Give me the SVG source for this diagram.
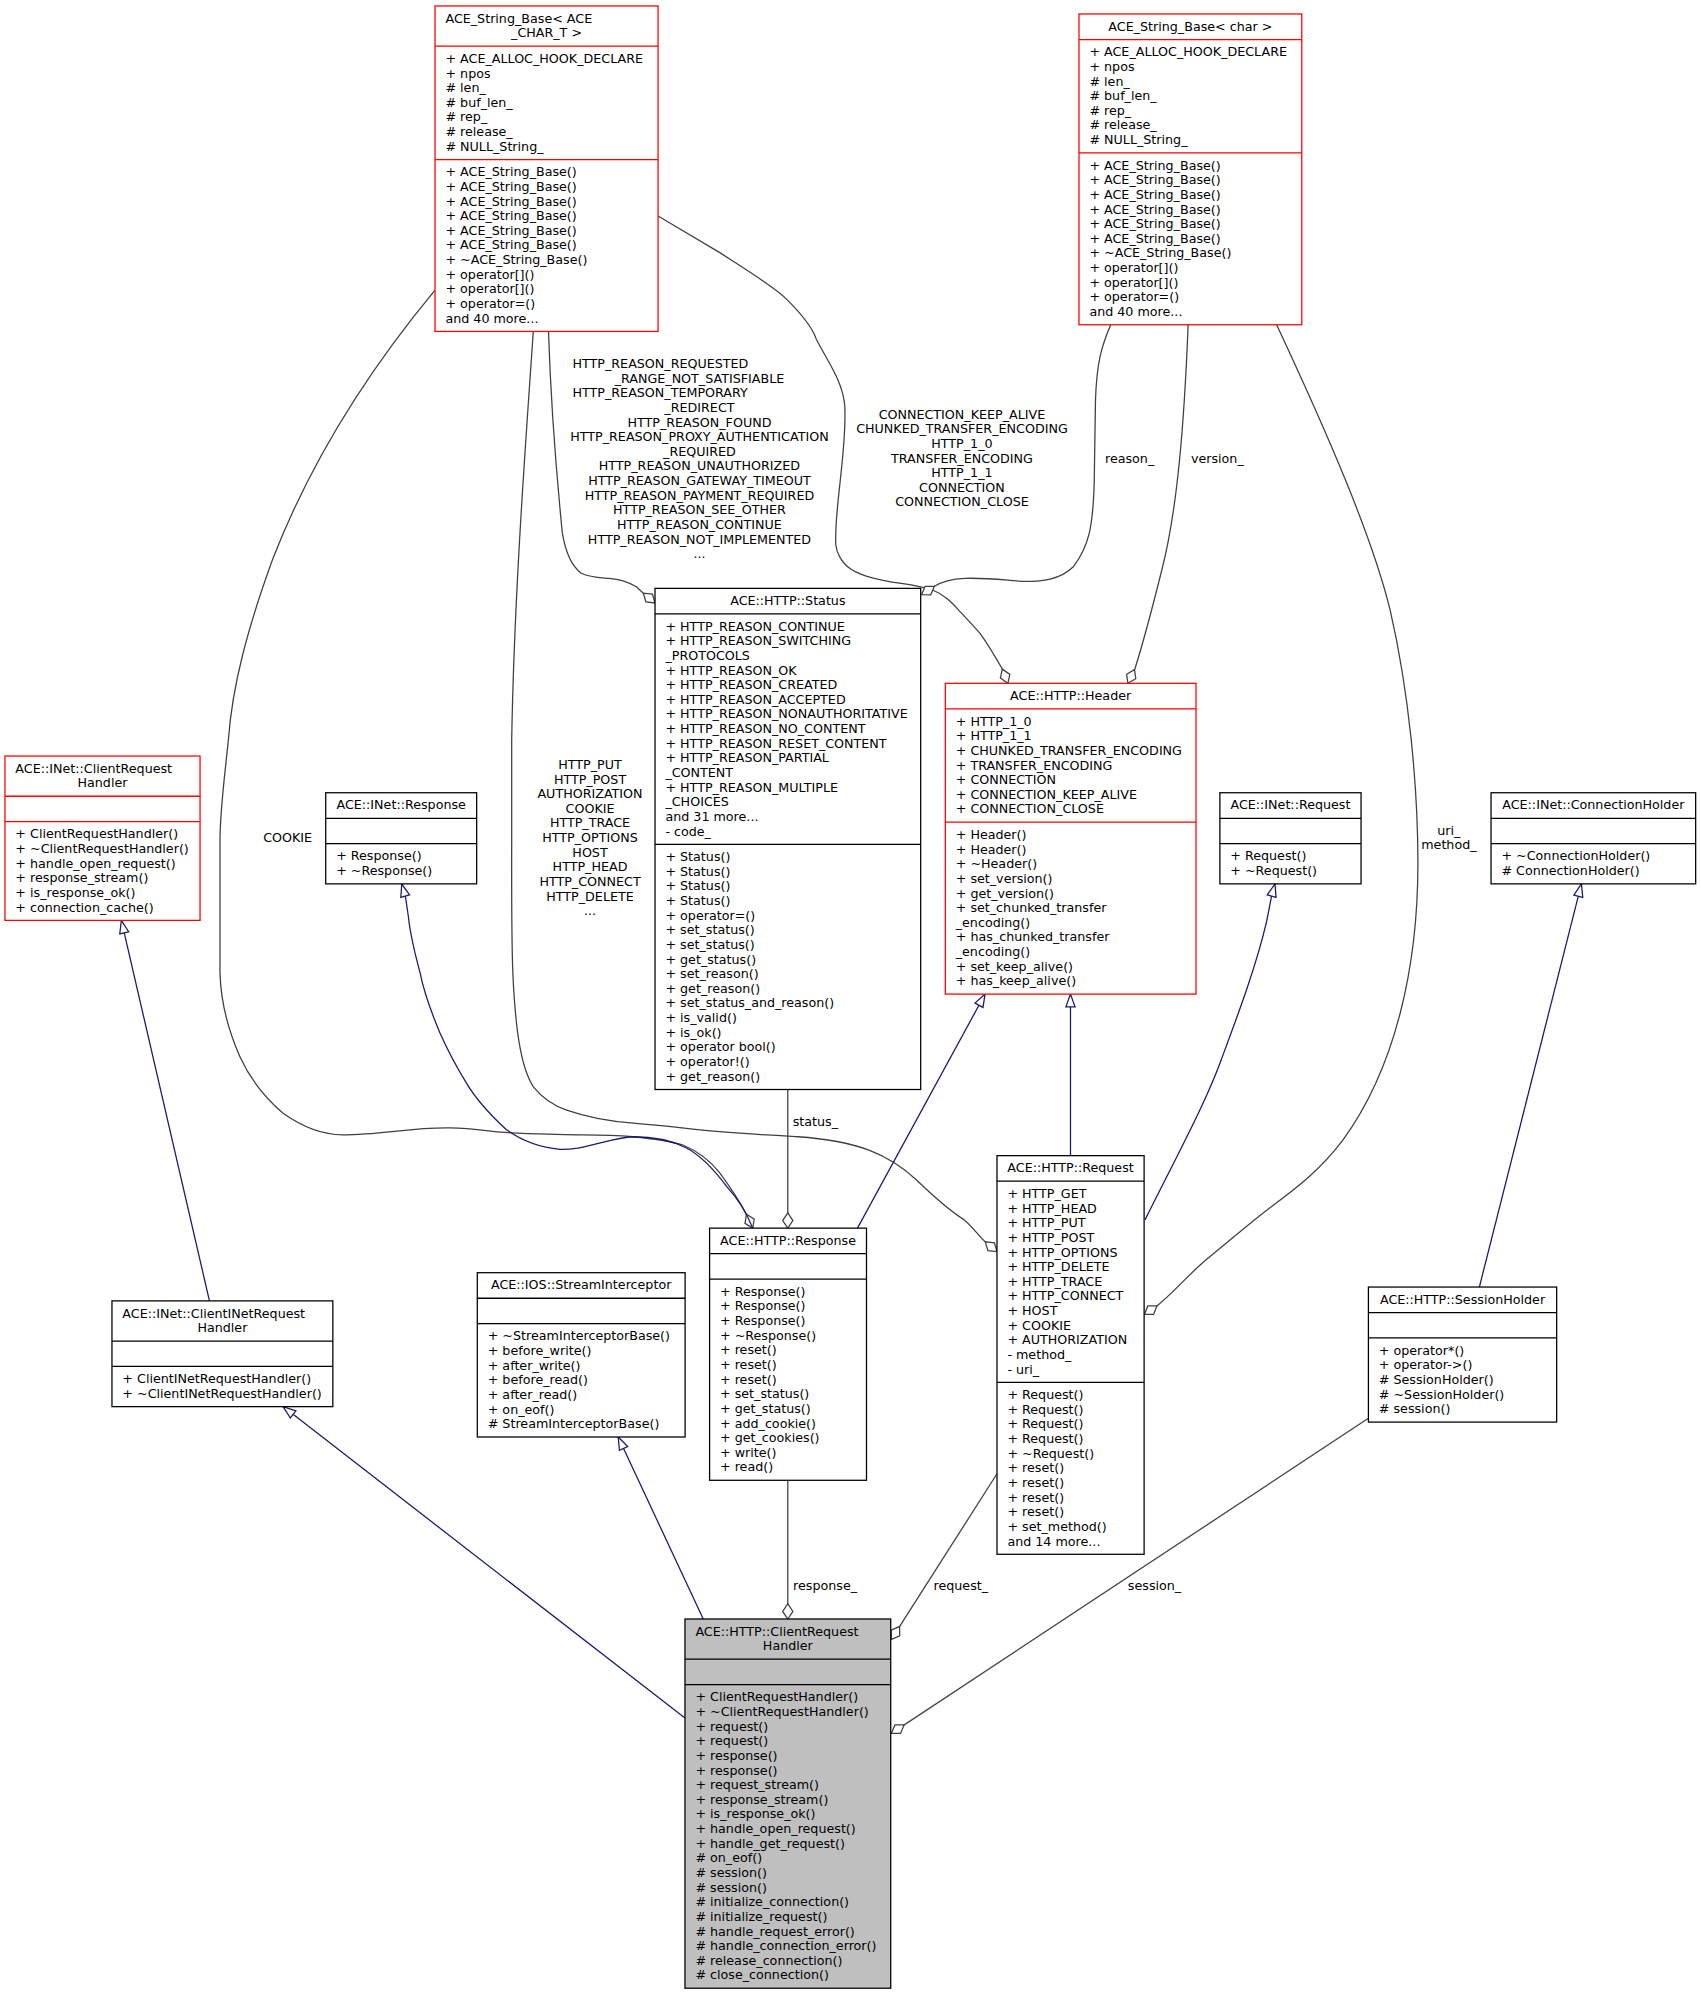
<svg xmlns="http://www.w3.org/2000/svg" width="1701" height="1995" viewBox="0 0 1701 1995">
<style>
.t{font-family:"DejaVu Sans","Liberation Sans",sans-serif;font-size:10px;fill:#000}
.c{text-anchor:middle}
.rb{fill:#fff;stroke:#000;stroke-width:1}
.rr{fill:#fff;stroke:#ff0000;stroke-width:1}
.rm{fill:#bfbfbf;stroke:#000;stroke-width:1}
.db{fill:none;stroke:#000;stroke-width:1}
.dr{fill:none;stroke:#ff0000;stroke-width:1}
.u{fill:none;stroke:#404040;stroke-width:1;marker-end:url(#dia)}
.i{fill:none;stroke:#191970;stroke-width:1;marker-end:url(#tri)}
</style>
<defs>
<marker id="dia" markerUnits="userSpaceOnUse" orient="auto" overflow="visible" refX="0" refY="0" markerWidth="1" markerHeight="1"><path d="M0,0 L-6,-4 L-12,0 L-6,4 Z" fill="#fff" stroke="#404040" stroke-width="1"/></marker>
<marker id="tri" markerUnits="userSpaceOnUse" orient="auto" overflow="visible" refX="0" refY="0" markerWidth="1" markerHeight="1"><path d="M0,0 L-10,-3.6 L-10,3.6 Z" fill="#fff" stroke="#191970" stroke-width="1"/></marker>
</defs>
<rect x="0" y="0" width="1701" height="1995" fill="#fff"/>
<g transform="scale(1.2694)">

<g id="edges">
<!-- E1 StrBaseACE -> Status -->
<path class="u" d="M432.1,261.3 C434,320 440,390 443,420 C445,432 449,445 457.9,451.6 C465,455 472,455 479.7,455.6 C490,456.5 496,459 501.3,462.2 L506.8,467.3 L516,475"/>
<!-- E2 StrBaseACE -> Header -->
<path class="u" d="M518.4,170.2 C535,180 552,190 567,199 C590,214 610,226 620,236 C632,248 640,258 643,267 C652,285 664,300 665.5,320 C667,350 660,385 658.6,415 C658,428 658,433 661.4,438.5 C666,447 673,451 683,454 C693,457 702,458.5 710,459.5 C720,461 728,462.5 734.7,464.8 C745,469 750,475 756.5,482 C762,488 767,493 772,499 C778,507 782,514 789.6,527.1 L794,538.3"/>
<!-- E3 reason_ -->
<path class="u" d="M875,255.8 C868,272 864,285 863,315 L862,380 C861,415 858,430 845.5,446.5 C835,457 820,458 808,458 C795,457.5 780,455 760,455.6 C750,456 742,458 735.8,462.1 L726,468.5"/>
<!-- E4 version_ -->
<path class="u" d="M936,255.8 C933,330 928,400 915,450 C908,478 901,505 894,527 L888.5,538.3"/>
<!-- E5 uri_ method_ -->
<path class="u" d="M1005.7,255.8 C1045,340 1080,420 1095,480 C1110,545 1117,620 1117,680 C1117,760 1100,840 1058,898 C1040,922 1020,937 1001,951 C985,963 968,978 953,990 C940,1000 925,1018 911.4,1028.8 L901.5,1035.5"/>
<!-- E6 COOKIE -> Response -->
<path class="u" d="M342.7,228.5 C300,280 250,350 215,440 C195,495 183,540 179.9,583 C176,620 173.3,640 173.3,661.7 L173.3,766.8 C174,790 180,812 189,832.4 C198,852 210,866 223,877 C240,889 255,894 270,894 C300,894 325,888 354.5,888.6 C375,889 390,892 407,892.7 C430,893.5 445,894 459,894 C475,894 488,894.5 498.7,895.5 C515,897 528,899 538,902 C550,907 560,915 567,924 C575,935 583,947 588,956.5 L593,967.5"/>
<!-- E7 HTTP_PUT... -> Request -->
<path class="u" d="M420.1,261.3 C414,350 405,470 403.1,583 L403.1,661.7 C403,700 403,740 404,766.6 C406,810 410,840 420,856 C428,866 436,871 446.4,874.5 C465,881 482,883.5 499,884.8 C525,887 545,889.5 567,891.5 C590,893.5 610,894.5 628.6,895.5 C650,897 668,900 684.6,906 C700,912 712,920 722,929.6 C737,944 750,955 759.6,961 C766,966 771,974 776.2,978.3 L785.4,986"/>
<!-- E8 Response -> INet::Response (inherit) -->
<path class="i" d="M593,967.5 C588,955 582,945 572.7,935 C563,922 552,910 540,904 C528,898 512,895.5 499,895.5 C485,896 470,902 455,904.5 C448,905.5 444,905.5 441,905.4 C425,904 410,898 399,890 C385,877 375,866 367.6,853.4 C358,838 352,826 346.6,813.8 C340,798 334,782 331,766.6 C326,748 323,735 321.7,722 L319.5,707 L316.5,696.4"/>
<!-- E9 status_ -->
<path class="u" d="M620.6,858.3 L620.6,967.5"/>
<!-- E10 Response -> Header -->
<path class="i" d="M675.5,967.5 L776,783.1"/>
<!-- E11 Request -> Header -->
<path class="i" d="M843.3,910.4 L843.3,783.1"/>
<!-- E12 Request -> INet::Request -->
<path class="i" d="M902,961 C930,905 950,868 962,835 C975,800 990,760 998,725 L1001.5,707 L1004.4,696.3"/>
<!-- E13 SessionHolder -> ConnectionHolder -->
<path class="i" d="M1165.4,1013.9 L1245.8,696.3"/>
<!-- E14 ClientINet -> INet CRH -->
<path class="i" d="M165,1024.8 L95.6,725.1"/>
<!-- E15 CRH -> ClientINet -->
<path class="i" d="M539.6,1353.4 L223,1108.1"/>
<!-- E16 CRH -> StreamInterceptor -->
<path class="i" d="M554,1275.4 L487,1132"/>
<!-- E17 response_ -->
<path class="u" d="M620.6,1166.1 L620.6,1275.4"/>
<!-- E18 request_ -->
<path class="u" d="M785.4,1161 L702.2,1291.5"/>
<!-- E19 session_ -->
<path class="u" d="M1078,1117.3 L702.2,1365.5"/>

<!-- edge labels -->
<text class="t" x="451" y="289.9">HTTP_REASON_REQUESTED</text>
<text class="t c" x="551" y="301.43">_RANGE_NOT_SATISFIABLE</text>
<text class="t" x="451" y="312.96">HTTP_REASON_TEMPORARY</text>
<text class="t c" x="551" y="324.49">_REDIRECT</text>
<text class="t c" x="551" y="336.02">HTTP_REASON_FOUND</text>
<text class="t c" x="551" y="347.55">HTTP_REASON_PROXY_AUTHENTICATION</text>
<text class="t c" x="551" y="359.08">_REQUIRED</text>
<text class="t c" x="551" y="370.61">HTTP_REASON_UNAUTHORIZED</text>
<text class="t c" x="551" y="382.14">HTTP_REASON_GATEWAY_TIMEOUT</text>
<text class="t c" x="551" y="393.67">HTTP_REASON_PAYMENT_REQUIRED</text>
<text class="t c" x="551" y="405.2">HTTP_REASON_SEE_OTHER</text>
<text class="t c" x="551" y="416.73">HTTP_REASON_CONTINUE</text>
<text class="t c" x="551" y="428.26">HTTP_REASON_NOT_IMPLEMENTED</text>
<text class="t c" x="551" y="439.79">...</text>

<text class="t c" x="757.8" y="329.8"><tspan x="757.8">CONNECTION_KEEP_ALIVE</tspan><tspan x="757.8" dy="11.53">CHUNKED_TRANSFER_ENCODING</tspan><tspan x="757.8" dy="11.53">HTTP_1_0</tspan><tspan x="757.8" dy="11.53">TRANSFER_ENCODING</tspan><tspan x="757.8" dy="11.53">HTTP_1_1</tspan><tspan x="757.8" dy="11.53">CONNECTION</tspan><tspan x="757.8" dy="11.53">CONNECTION_CLOSE</tspan></text>

<text class="t c" x="889.9" y="364.6">reason_</text>
<text class="t c" x="959" y="364.6">version_</text>
<text class="t c" x="1141.4" y="657.4"><tspan x="1141.4">uri_</tspan><tspan x="1141.4" dy="11.53">method_</tspan></text>
<text class="t c" x="226.6" y="663.5">COOKIE</text>
<text class="t c" x="464.8" y="605.7"><tspan x="464.8">HTTP_PUT</tspan><tspan x="464.8" dy="11.53">HTTP_POST</tspan><tspan x="464.8" dy="11.53">AUTHORIZATION</tspan><tspan x="464.8" dy="11.53">COOKIE</tspan><tspan x="464.8" dy="11.53">HTTP_TRACE</tspan><tspan x="464.8" dy="11.53">HTTP_OPTIONS</tspan><tspan x="464.8" dy="11.53">HOST</tspan><tspan x="464.8" dy="11.53">HTTP_HEAD</tspan><tspan x="464.8" dy="11.53">HTTP_CONNECT</tspan><tspan x="464.8" dy="11.53">HTTP_DELETE</tspan><tspan x="464.8" dy="11.53">...</tspan></text>
<text class="t c" x="642.3" y="887">status_</text>
<text class="t c" x="650" y="1252.5">response_</text>
<text class="t c" x="756.9" y="1252.5">request_</text>
<text class="t c" x="909.5" y="1252.5">session_</text>
</g>

<g id="n_strbase_ace">
<rect class="rr" x="342.7" y="4.7" width="175.7" height="256.4"/>
<path class="dr" d="M342.7,36.36H518.4M342.7,125.66H518.4"/>
<text class="t" x="350.9" y="17.9">ACE_String_Base&lt; ACE</text>
<text class="t c" x="430.55" y="29.43">_CHAR_T &gt;</text>
<text class="t" x="350.9" y="49.56"><tspan x="350.9">+ ACE_ALLOC_HOOK_DECLARE</tspan><tspan x="350.9" dy="11.53">+ npos</tspan><tspan x="350.9" dy="11.53"># len_</tspan><tspan x="350.9" dy="11.53"># buf_len_</tspan><tspan x="350.9" dy="11.53"># rep_</tspan><tspan x="350.9" dy="11.53"># release_</tspan><tspan x="350.9" dy="11.53"># NULL_String_</tspan></text>
<text class="t" x="350.9" y="138.86"><tspan x="350.9">+ ACE_String_Base()</tspan><tspan x="350.9" dy="11.53">+ ACE_String_Base()</tspan><tspan x="350.9" dy="11.53">+ ACE_String_Base()</tspan><tspan x="350.9" dy="11.53">+ ACE_String_Base()</tspan><tspan x="350.9" dy="11.53">+ ACE_String_Base()</tspan><tspan x="350.9" dy="11.53">+ ACE_String_Base()</tspan><tspan x="350.9" dy="11.53">+ ~ACE_String_Base()</tspan><tspan x="350.9" dy="11.53">+ operator[]()</tspan><tspan x="350.9" dy="11.53">+ operator[]()</tspan><tspan x="350.9" dy="11.53">+ operator=()</tspan><tspan x="350.9" dy="11.53">and 40 more...</tspan></text>
</g>

<g id="n_strbase_char">
<rect class="rr" x="850" y="11" width="175.5" height="244.83"/>
<path class="dr" d="M850,31.13H1025.5M850,120.43H1025.5"/>
<text class="t c" x="937.75" y="24.2">ACE_String_Base&lt; char &gt;</text>
<text class="t" x="858.2" y="44.33"><tspan x="858.2">+ ACE_ALLOC_HOOK_DECLARE</tspan><tspan x="858.2" dy="11.53">+ npos</tspan><tspan x="858.2" dy="11.53"># len_</tspan><tspan x="858.2" dy="11.53"># buf_len_</tspan><tspan x="858.2" dy="11.53"># rep_</tspan><tspan x="858.2" dy="11.53"># release_</tspan><tspan x="858.2" dy="11.53"># NULL_String_</tspan></text>
<text class="t" x="858.2" y="133.63"><tspan x="858.2">+ ACE_String_Base()</tspan><tspan x="858.2" dy="11.53">+ ACE_String_Base()</tspan><tspan x="858.2" dy="11.53">+ ACE_String_Base()</tspan><tspan x="858.2" dy="11.53">+ ACE_String_Base()</tspan><tspan x="858.2" dy="11.53">+ ACE_String_Base()</tspan><tspan x="858.2" dy="11.53">+ ACE_String_Base()</tspan><tspan x="858.2" dy="11.53">+ ~ACE_String_Base()</tspan><tspan x="858.2" dy="11.53">+ operator[]()</tspan><tspan x="858.2" dy="11.53">+ operator[]()</tspan><tspan x="858.2" dy="11.53">+ operator=()</tspan><tspan x="858.2" dy="11.53">and 40 more...</tspan></text>
</g>

<g id="n_status">
<rect class="rb" x="516" y="463.5" width="209.3" height="394.78"/>
<path class="db" d="M516,483.63H725.3M516,665.18H725.3"/>
<text class="t c" x="620.65" y="476.7">ACE::HTTP::Status</text>
<text class="t" x="524.2" y="496.83"><tspan x="524.2">+ HTTP_REASON_CONTINUE</tspan><tspan x="524.2" dy="11.53">+ HTTP_REASON_SWITCHING</tspan><tspan x="524.2" dy="11.53">_PROTOCOLS</tspan><tspan x="524.2" dy="11.53">+ HTTP_REASON_OK</tspan><tspan x="524.2" dy="11.53">+ HTTP_REASON_CREATED</tspan><tspan x="524.2" dy="11.53">+ HTTP_REASON_ACCEPTED</tspan><tspan x="524.2" dy="11.53">+ HTTP_REASON_NONAUTHORITATIVE</tspan><tspan x="524.2" dy="11.53">+ HTTP_REASON_NO_CONTENT</tspan><tspan x="524.2" dy="11.53">+ HTTP_REASON_RESET_CONTENT</tspan><tspan x="524.2" dy="11.53">+ HTTP_REASON_PARTIAL</tspan><tspan x="524.2" dy="11.53">_CONTENT</tspan><tspan x="524.2" dy="11.53">+ HTTP_REASON_MULTIPLE</tspan><tspan x="524.2" dy="11.53">_CHOICES</tspan><tspan x="524.2" dy="11.53">and 31 more...</tspan><tspan x="524.2" dy="11.53">- code_</tspan></text>
<text class="t" x="524.2" y="678.38"><tspan x="524.2">+ Status()</tspan><tspan x="524.2" dy="11.53">+ Status()</tspan><tspan x="524.2" dy="11.53">+ Status()</tspan><tspan x="524.2" dy="11.53">+ Status()</tspan><tspan x="524.2" dy="11.53">+ operator=()</tspan><tspan x="524.2" dy="11.53">+ set_status()</tspan><tspan x="524.2" dy="11.53">+ set_status()</tspan><tspan x="524.2" dy="11.53">+ get_status()</tspan><tspan x="524.2" dy="11.53">+ set_reason()</tspan><tspan x="524.2" dy="11.53">+ get_reason()</tspan><tspan x="524.2" dy="11.53">+ set_status_and_reason()</tspan><tspan x="524.2" dy="11.53">+ is_valid()</tspan><tspan x="524.2" dy="11.53">+ is_ok()</tspan><tspan x="524.2" dy="11.53">+ operator bool()</tspan><tspan x="524.2" dy="11.53">+ operator!()</tspan><tspan x="524.2" dy="11.53">+ get_reason()</tspan></text>
</g>

<g id="n_header">
<rect class="rr" x="744.7" y="538.3" width="197.5" height="244.83"/>
<path class="dr" d="M744.7,558.43H942.2M744.7,647.73H942.2"/>
<text class="t c" x="843.45" y="551.5">ACE::HTTP::Header</text>
<text class="t" x="752.9" y="571.63"><tspan x="752.9">+ HTTP_1_0</tspan><tspan x="752.9" dy="11.53">+ HTTP_1_1</tspan><tspan x="752.9" dy="11.53">+ CHUNKED_TRANSFER_ENCODING</tspan><tspan x="752.9" dy="11.53">+ TRANSFER_ENCODING</tspan><tspan x="752.9" dy="11.53">+ CONNECTION</tspan><tspan x="752.9" dy="11.53">+ CONNECTION_KEEP_ALIVE</tspan><tspan x="752.9" dy="11.53">+ CONNECTION_CLOSE</tspan></text>
<text class="t" x="752.9" y="660.93"><tspan x="752.9">+ Header()</tspan><tspan x="752.9" dy="11.53">+ Header()</tspan><tspan x="752.9" dy="11.53">+ ~Header()</tspan><tspan x="752.9" dy="11.53">+ set_version()</tspan><tspan x="752.9" dy="11.53">+ get_version()</tspan><tspan x="752.9" dy="11.53">+ set_chunked_transfer</tspan><tspan x="752.9" dy="11.53">_encoding()</tspan><tspan x="752.9" dy="11.53">+ has_chunked_transfer</tspan><tspan x="752.9" dy="11.53">_encoding()</tspan><tspan x="752.9" dy="11.53">+ set_keep_alive()</tspan><tspan x="752.9" dy="11.53">+ has_keep_alive()</tspan></text>
</g>

<g id="n_inet_crh">
<rect class="rr" x="3.9" y="595.6" width="153.7" height="129.46"/>
<path class="dr" d="M3.9,627.26H157.6M3.9,647.26H157.6"/>
<text class="t" x="12.1" y="608.8">ACE::INet::ClientRequest</text>
<text class="t c" x="80.75" y="620.33">Handler</text>
<text class="t" x="12.1" y="660.46"><tspan x="12.1">+ ClientRequestHandler()</tspan><tspan x="12.1" dy="11.53">+ ~ClientRequestHandler()</tspan><tspan x="12.1" dy="11.53">+ handle_open_request()</tspan><tspan x="12.1" dy="11.53">+ response_stream()</tspan><tspan x="12.1" dy="11.53">+ is_response_ok()</tspan><tspan x="12.1" dy="11.53">+ connection_cache()</tspan></text>
</g>

<g id="n_inet_response">
<rect class="rb" x="256.6" y="624.5" width="118.9" height="71.79"/>
<path class="db" d="M256.6,644.63H375.5M256.6,664.63H375.5"/>
<text class="t c" x="316.05" y="637.7">ACE::INet::Response</text>
<text class="t" x="264.8" y="677.83"><tspan x="264.8">+ Response()</tspan><tspan x="264.8" dy="11.53">+ ~Response()</tspan></text>
</g>

<g id="n_inet_request">
<rect class="rb" x="961" y="624.5" width="111.2" height="71.79"/>
<path class="db" d="M961,644.63H1072.2M961,664.63H1072.2"/>
<text class="t c" x="1016.6" y="637.7">ACE::INet::Request</text>
<text class="t" x="969.2" y="677.83"><tspan x="969.2">+ Request()</tspan><tspan x="969.2" dy="11.53">+ ~Request()</tspan></text>
</g>

<g id="n_inet_connholder">
<rect class="rb" x="1174.6" y="624.5" width="161.2" height="71.79"/>
<path class="db" d="M1174.6,644.63H1335.8M1174.6,664.63H1335.8"/>
<text class="t c" x="1255.2" y="637.7">ACE::INet::ConnectionHolder</text>
<text class="t" x="1182.8" y="677.83"><tspan x="1182.8">+ ~ConnectionHolder()</tspan><tspan x="1182.8" dy="11.53"># ConnectionHolder()</tspan></text>
</g>

<g id="n_http_request">
<rect class="rb" x="785.4" y="910.4" width="115.9" height="314.03"/>
<path class="db" d="M785.4,930.53H901.3M785.4,1089.03H901.3"/>
<text class="t c" x="843.35" y="923.6">ACE::HTTP::Request</text>
<text class="t" x="793.6" y="943.73"><tspan x="793.6">+ HTTP_GET</tspan><tspan x="793.6" dy="11.53">+ HTTP_HEAD</tspan><tspan x="793.6" dy="11.53">+ HTTP_PUT</tspan><tspan x="793.6" dy="11.53">+ HTTP_POST</tspan><tspan x="793.6" dy="11.53">+ HTTP_OPTIONS</tspan><tspan x="793.6" dy="11.53">+ HTTP_DELETE</tspan><tspan x="793.6" dy="11.53">+ HTTP_TRACE</tspan><tspan x="793.6" dy="11.53">+ HTTP_CONNECT</tspan><tspan x="793.6" dy="11.53">+ HOST</tspan><tspan x="793.6" dy="11.53">+ COOKIE</tspan><tspan x="793.6" dy="11.53">+ AUTHORIZATION</tspan><tspan x="793.6" dy="11.53">- method_</tspan><tspan x="793.6" dy="11.53">- uri_</tspan></text>
<text class="t" x="793.6" y="1102.23"><tspan x="793.6">+ Request()</tspan><tspan x="793.6" dy="11.53">+ Request()</tspan><tspan x="793.6" dy="11.53">+ Request()</tspan><tspan x="793.6" dy="11.53">+ Request()</tspan><tspan x="793.6" dy="11.53">+ ~Request()</tspan><tspan x="793.6" dy="11.53">+ reset()</tspan><tspan x="793.6" dy="11.53">+ reset()</tspan><tspan x="793.6" dy="11.53">+ reset()</tspan><tspan x="793.6" dy="11.53">+ reset()</tspan><tspan x="793.6" dy="11.53">+ set_method()</tspan><tspan x="793.6" dy="11.53">and 14 more...</tspan></text>
</g>

<g id="n_http_response">
<rect class="rb" x="559" y="967.5" width="123.6" height="198.63"/>
<path class="db" d="M559,987.63H682.6M559,1007.63H682.6"/>
<text class="t c" x="620.8" y="980.7">ACE::HTTP::Response</text>
<text class="t" x="567.2" y="1020.83"><tspan x="567.2">+ Response()</tspan><tspan x="567.2" dy="11.53">+ Response()</tspan><tspan x="567.2" dy="11.53">+ Response()</tspan><tspan x="567.2" dy="11.53">+ ~Response()</tspan><tspan x="567.2" dy="11.53">+ reset()</tspan><tspan x="567.2" dy="11.53">+ reset()</tspan><tspan x="567.2" dy="11.53">+ reset()</tspan><tspan x="567.2" dy="11.53">+ set_status()</tspan><tspan x="567.2" dy="11.53">+ get_status()</tspan><tspan x="567.2" dy="11.53">+ add_cookie()</tspan><tspan x="567.2" dy="11.53">+ get_cookies()</tspan><tspan x="567.2" dy="11.53">+ write()</tspan><tspan x="567.2" dy="11.53">+ read()</tspan></text>
</g>

<g id="n_stream_interceptor">
<rect class="rb" x="376" y="1002.6" width="163.7" height="129.43"/>
<path class="db" d="M376,1022.73H539.7M376,1042.73H539.7"/>
<text class="t c" x="457.85" y="1015.8">ACE::IOS::StreamInterceptor</text>
<text class="t" x="384.2" y="1055.93"><tspan x="384.2">+ ~StreamInterceptorBase()</tspan><tspan x="384.2" dy="11.53">+ before_write()</tspan><tspan x="384.2" dy="11.53">+ after_write()</tspan><tspan x="384.2" dy="11.53">+ before_read()</tspan><tspan x="384.2" dy="11.53">+ after_read()</tspan><tspan x="384.2" dy="11.53">+ on_eof()</tspan><tspan x="384.2" dy="11.53"># StreamInterceptorBase()</tspan></text>
</g>

<g id="n_clientinet">
<rect class="rb" x="88.2" y="1024.8" width="174" height="83.32"/>
<path class="db" d="M88.2,1056.46H262.2M88.2,1076.46H262.2"/>
<text class="t" x="96.4" y="1038">ACE::INet::ClientINetRequest</text>
<text class="t c" x="175.2" y="1049.53">Handler</text>
<text class="t" x="96.4" y="1089.66"><tspan x="96.4">+ ClientINetRequestHandler()</tspan><tspan x="96.4" dy="11.53">+ ~ClientINetRequestHandler()</tspan></text>
</g>

<g id="n_sessionholder">
<rect class="rb" x="1078" y="1013.9" width="148.3" height="106.38"/>
<path class="db" d="M1078,1034.03H1226.3M1078,1054.03H1226.3"/>
<text class="t c" x="1152.15" y="1027.1">ACE::HTTP::SessionHolder</text>
<text class="t" x="1086.2" y="1067.23"><tspan x="1086.2">+ operator*()</tspan><tspan x="1086.2" dy="11.53">+ operator-&gt;()</tspan><tspan x="1086.2" dy="11.53"># SessionHolder()</tspan><tspan x="1086.2" dy="11.53"># ~SessionHolder()</tspan><tspan x="1086.2" dy="11.53"># session()</tspan></text>
</g>

<g id="n_http_crh">
<rect class="rm" x="539.6" y="1275.4" width="162.1" height="290.86"/>
<path class="db" d="M539.6,1307.06H701.7M539.6,1327.06H701.7"/>
<text class="t" x="547.8" y="1288.6">ACE::HTTP::ClientRequest</text>
<text class="t c" x="620.65" y="1300.13">Handler</text>
<text class="t" x="547.8" y="1340.26"><tspan x="547.8">+ ClientRequestHandler()</tspan><tspan x="547.8" dy="11.53">+ ~ClientRequestHandler()</tspan><tspan x="547.8" dy="11.53">+ request()</tspan><tspan x="547.8" dy="11.53">+ request()</tspan><tspan x="547.8" dy="11.53">+ response()</tspan><tspan x="547.8" dy="11.53">+ response()</tspan><tspan x="547.8" dy="11.53">+ request_stream()</tspan><tspan x="547.8" dy="11.53">+ response_stream()</tspan><tspan x="547.8" dy="11.53">+ is_response_ok()</tspan><tspan x="547.8" dy="11.53">+ handle_open_request()</tspan><tspan x="547.8" dy="11.53">+ handle_get_request()</tspan><tspan x="547.8" dy="11.53"># on_eof()</tspan><tspan x="547.8" dy="11.53"># session()</tspan><tspan x="547.8" dy="11.53"># session()</tspan><tspan x="547.8" dy="11.53"># initialize_connection()</tspan><tspan x="547.8" dy="11.53"># initialize_request()</tspan><tspan x="547.8" dy="11.53"># handle_request_error()</tspan><tspan x="547.8" dy="11.53"># handle_connection_error()</tspan><tspan x="547.8" dy="11.53"># release_connection()</tspan><tspan x="547.8" dy="11.53"># close_connection()</tspan></text>
</g>

</g>
</svg>
